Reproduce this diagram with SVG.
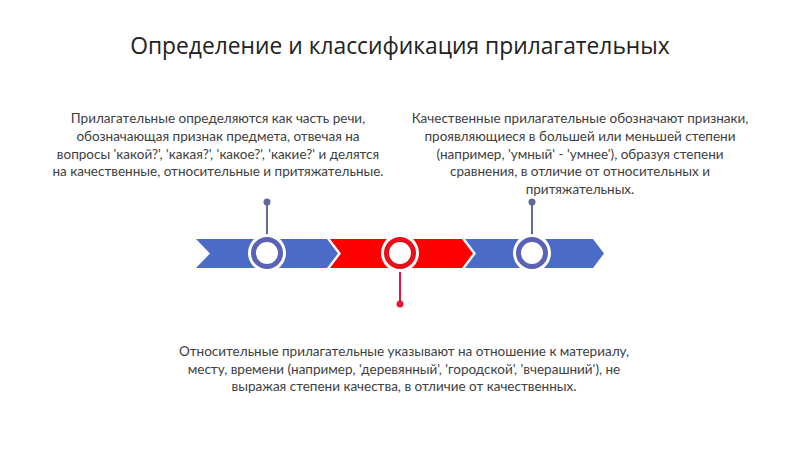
<svg xmlns="http://www.w3.org/2000/svg" width="800" height="449" viewBox="0 0 800 449">
<style>
.title{font-family:"Open Sans","Noto Sans",sans-serif;font-size:22.8px;fill:#222;text-anchor:middle}
.body{font-family:Lato,"Liberation Sans",sans-serif;font-size:13.5px;fill:#404040;text-anchor:middle}
.blue{fill:#4a6cc6}
.red{fill:#ff0000}
.halo{fill:#fff}
.ringb{fill:#fff;stroke:#5a62b4;stroke-width:5}
.ringr{fill:#fff;stroke:#e8101c;stroke-width:5}
.stemb{stroke:#5f6b96;stroke-width:2}
.stemr{stroke:#e8173a;stroke-width:2}
.dotb{fill:#5f6b96}
.dotr{fill:#e8173a}
</style>
<rect width="800" height="449" fill="#fff"/>
<text class="title" x="400" y="54">Определение и классификация прилагательных</text>

<g id="band">
<polygon class="blue" points="196,239 327,239 338,253.5 327,268 196,268 210,253.5"/>
<polygon class="red" points="330,239 462,239 473,253.5 462,268 330,268 341,253.5"/>
<polygon class="blue" points="465,239 593,239 604,253.5 593,268 465,268 476,253.5"/>
</g>

<g id="connectors">
<line class="stemb" x1="267" y1="202" x2="267" y2="238"/>
<circle class="dotb" cx="267" cy="202" r="3.5"/>
<line class="stemb" x1="532" y1="202" x2="532" y2="238"/>
<circle class="dotb" cx="532" cy="202" r="3.5"/>
<line class="stemr" x1="400" y1="268" x2="400" y2="304"/>
<circle class="dotr" cx="400" cy="304" r="3.5"/>
</g>

<g id="node1">
<circle class="halo" cx="267" cy="253" r="19"/>
<circle class="ringb" cx="267" cy="253" r="13.5"/>
<text class="body" x="218" y="123.3">Прилагательные определяются как часть речи,</text>
<text class="body" x="218" y="140.9">обозначающая признак предмета, отвечая на</text>
<text class="body" x="218" y="158.5">вопросы 'какой?', 'какая?', 'какое?', 'какие?' и делятся</text>
<text class="body" x="218" y="176.1">на качественные, относительные и притяжательные.</text>
</g>

<g id="node2">
<circle class="halo" cx="400" cy="253" r="19"/>
<circle class="ringr" cx="400" cy="253" r="13.5"/>
<text class="body" x="404" y="356">Относительные прилагательные указывают на отношение к материалу,</text>
<text class="body" x="404" y="373.6">месту, времени (например, 'деревянный', 'городской', 'вчерашний'), не</text>
<text class="body" x="404" y="391.2">выражая степени качества, в отличие от качественных.</text>
</g>

<g id="node3">
<circle class="halo" cx="532" cy="253" r="19"/>
<circle class="ringb" cx="532" cy="253" r="13.5"/>
<text class="body" x="580" y="123.3">Качественные прилагательные обозначают признаки,</text>
<text class="body" x="580" y="140.9">проявляющиеся в большей или меньшей степени</text>
<text class="body" x="580" y="158.5">(например, 'умный' - 'умнее'), образуя степени</text>
<text class="body" x="580" y="176.1">сравнения, в отличие от относительных и</text>
<text class="body" x="580" y="193.7">притяжательных.</text>
</g>
</svg>
